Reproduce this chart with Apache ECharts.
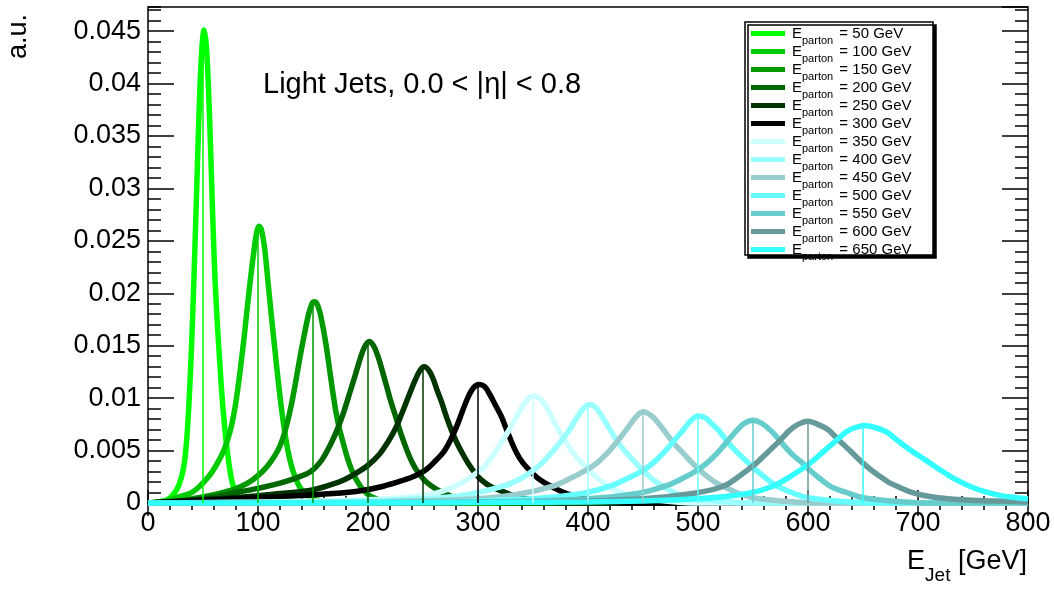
<!DOCTYPE html>
<html><head><meta charset="utf-8">
<script src="https://cdn.jsdelivr.net/npm/echarts@6/dist/echarts.min.js"></script>
<style>html,body{margin:0;padding:0;background:#fff}#c{width:1054px;height:591px}</style>
</head><body><div id="c"></div>
<script>
const energies = [50, 100, 150, 200, 250, 300, 350, 400, 450, 500, 550, 600, 650];
const colors = ['#00ff00', '#00cc00', '#009900', '#006600', '#003300', '#000000',
  '#ccffff', '#99ffff', '#99cccc', '#66ffff', '#66cccc', '#669999', '#33ffff'];
const peakValues = [0.0448, 0.0263, 0.0191, 0.0154, 0.0130, 0.0113, 0.0102, 0.0094, 0.0087, 0.0083, 0.0079, 0.0078, 0.0073];

const curve50 = [[0,0],[10,0.0001],[15,0.0002],[20,0.0005],[25,0.0011],[28,0.0017],[31,0.0027],[33,0.0038],[35,0.0058],[37,0.0090],[39,0.0135],[41,0.0190],[43,0.0255],[45,0.0325],[47,0.0390],[49,0.0434],[51,0.0451],[53,0.0436],[55,0.0395],[57,0.0335],[59,0.0268],[61,0.0212],[63,0.0172],[65,0.0138],[67,0.0106],[69,0.0080],[71,0.0059],[73,0.0042],[75,0.0028],[77,0.0018],[80,0.0010],[85,0.0004],[95,0.0001],[110,0],[800,0]];
const curve100 = [[0,0],[15,0.0002],[25,0.0005],[38,0.0009],[45,0.0014],[55,0.0025],[62,0.0036],[68,0.0048],[72,0.0059],[76,0.0074],[80,0.0097],[84,0.0128],[88,0.0164],[92,0.0203],[96,0.0238],[99,0.0259],[101,0.0264],[103,0.0261],[106,0.0243],[109,0.0212],[112,0.0180],[115,0.0150],[118,0.0120],[121,0.0093],[124,0.0070],[127,0.0051],[130,0.0037],[134,0.0024],[138,0.0015],[143,0.0009],[150,0.0004],[165,0.0001],[190,0],[800,0]];
const curve150 = [[0,0],[20,0.0001],[40,0.0004],[60,0.0008],[75,0.0012],[85,0.0016],[95,0.0022],[105,0.0031],[112,0.0040],[118,0.0050],[122,0.0060],[126,0.0074],[130,0.0092],[134,0.0114],[138,0.0138],[142,0.0160],[146,0.0180],[149,0.0190],[151,0.0192],[153,0.0191],[156,0.0183],[159,0.0168],[162,0.0150],[165,0.0128],[168,0.0106],[171,0.0086],[174,0.0071],[177,0.0059],[181,0.0044],[185,0.0032],[190,0.0021],[196,0.0012],[203,0.0006],[215,0.0002],[240,0],[800,0]];
const curve200 = [[0,0],[30,0.0002],[60,0.0006],[80,0.0010],[100,0.0014],[120,0.0019],[135,0.0024],[148,0.0030],[158,0.0041],[166,0.0056],[172,0.0070],[178,0.0087],[184,0.0107],[189,0.0124],[193,0.0138],[197,0.0149],[201,0.0154],[205,0.0150],[209,0.0140],[213,0.0126],[217,0.0111],[221,0.0096],[225,0.0083],[229,0.0069],[233,0.0057],[237,0.0046],[241,0.0037],[245,0.0030],[251,0.0022],[258,0.0016],[266,0.0011],[280,0.0005],[300,0.0002],[330,0],[800,0]];
const curve250 = [[0,0],[30,0.0002],[60,0.0004],[90,0.0006],[120,0.0009],[147,0.0012],[165,0.0017],[178,0.0022],[190,0.0029],[200,0.0036],[210,0.0046],[218,0.0058],[225,0.0071],[231,0.0086],[237,0.0102],[242,0.0115],[247,0.0126],[251,0.0130],[255,0.0127],[259,0.0119],[263,0.0107],[267,0.0096],[271,0.0083],[276,0.0069],[281,0.0057],[286,0.0047],[291,0.0038],[297,0.0029],[303,0.0022],[311,0.0016],[320,0.0012],[335,0.0006],[355,0.0002],[380,0],[800,0]];
const curve300 = [[0,0],[40,0.0002],[80,0.0004],[120,0.0006],[168,0.0009],[195,0.0012],[214,0.0016],[230,0.0021],[243,0.0026],[253,0.0032],[262,0.0041],[269,0.0049],[275,0.0060],[281,0.0074],[286,0.0088],[291,0.0101],[296,0.0110],[301,0.0113],[306,0.0111],[311,0.0103],[316,0.0093],[321,0.0083],[326,0.0070],[331,0.0057],[336,0.0046],[341,0.0038],[347,0.0031],[354,0.0024],[361,0.0019],[368,0.0015],[378,0.0010],[390,0.0006],[410,0.0002],[440,0],[800,0]];
const curve350 = [[0,0],[100,0.0001],[200,0.0003],[240,0.0006],[260,0.0009],[275,0.0014],[288,0.0021],[298,0.0028],[306,0.0035],[314,0.0046],[322,0.0059],[329,0.0071],[336,0.0084],[343,0.0096],[350,0.0102],[357,0.0099],[364,0.0088],[371,0.0074],[378,0.0061],[385,0.0050],[392,0.0041],[399,0.0033],[406,0.0026],[413,0.0020],[420,0.0015],[430,0.0010],[445,0.0005],[470,0.0002],[500,0],[800,0]];
const curve400 = [[0,0],[150,0.0001],[250,0.0004],[290,0.0008],[323,0.0016],[340,0.0024],[350,0.0031],[358,0.0038],[366,0.0047],[374,0.0057],[382,0.0068],[389,0.0080],[395,0.0089],[401,0.0094],[407,0.0091],[413,0.0082],[420,0.0070],[427,0.0058],[434,0.0049],[441,0.0041],[448,0.0033],[455,0.0026],[462,0.0020],[468,0.0016],[478,0.0010],[492,0.0005],[515,0.0002],[550,0],[800,0]];
const curve450 = [[0,0],[200,0.0001],[300,0.0004],[340,0.0009],[368,0.0016],[385,0.0024],[398,0.0031],[408,0.0038],[417,0.0047],[426,0.0058],[435,0.0070],[442,0.0080],[450,0.0087],[458,0.0083],[464,0.0076],[470,0.0068],[478,0.0057],[486,0.0048],[494,0.0039],[502,0.0031],[510,0.0024],[517,0.0019],[523,0.0016],[535,0.0010],[550,0.0005],[575,0.0002],[610,0],[800,0]];
const curve500 = [[0,0],[250,0.0001],[350,0.0004],[395,0.0009],[420,0.0016],[437,0.0024],[450,0.0031],[459,0.0038],[468,0.0047],[477,0.0058],[486,0.0069],[493,0.0078],[500,0.0083],[507,0.0081],[513,0.0075],[519,0.0069],[527,0.0058],[535,0.0049],[543,0.0041],[551,0.0033],[559,0.0026],[566,0.0020],[572,0.0016],[585,0.0010],[600,0.0005],[625,0.0002],[660,0],[800,0]];
const curve550 = [[0,0],[300,0.0001],[400,0.0004],[445,0.0009],[470,0.0016],[487,0.0024],[499,0.0031],[508,0.0038],[517,0.0047],[526,0.0058],[535,0.0069],[542,0.0076],[550,0.0079],[558,0.0076],[564,0.0071],[570,0.0065],[578,0.0055],[586,0.0046],[594,0.0039],[602,0.0031],[610,0.0024],[616,0.0019],[622,0.0015],[635,0.0010],[650,0.0005],[675,0.0002],[710,0],[800,0]];
const curve600 = [[0,0],[350,0.0001],[450,0.0004],[495,0.0009],[523,0.0016],[538,0.0026],[553,0.0038],[563,0.0048],[573,0.0058],[583,0.0069],[591,0.0075],[600,0.0078],[609,0.0075],[618,0.0070],[626,0.0062],[634,0.0054],[642,0.0046],[650,0.0038],[658,0.0031],[666,0.0025],[673,0.0020],[681,0.0016],[695,0.0010],[712,0.0006],[740,0.0003],[770,0.0002],[800,0.0001]];
const curve650 = [[0,0],[400,0.0001],[500,0.0004],[545,0.0009],[568,0.0016],[585,0.0026],[602,0.0038],[613,0.0048],[624,0.0058],[635,0.0068],[643,0.0072],[652,0.0074],[661,0.0072],[671,0.0068],[681,0.0060],[691,0.0052],[701,0.0045],[711,0.0038],[721,0.0031],[730,0.0025],[739,0.0020],[747,0.0016],[760,0.0011],[775,0.0007],[790,0.0005],[800,0.0004]];
const curves = [curve50, curve100, curve150, curve200, curve250, curve300, curve350, curve400, curve450, curve500, curve550, curve600, curve650];

const FONT = 'Liberation Sans, Arial, Helvetica, sans-serif';
const chart = echarts.init(document.getElementById('c'), null, {renderer: 'canvas'});

const series = energies.map((e, i) => ({
  name: String(e),
  type: 'line',
  xAxisIndex: 0, yAxisIndex: 0,
  data: curves[i],
  smooth: 0.35,
  symbol: 'none',
  clip: false,
  color: colors[i],
  lineStyle: {width: 5.5, color: colors[i]},
  z: 3,
  markLine: {
    silent: true, symbol: ['none', 'none'], animation: false,
    label: {show: false},
    lineStyle: {color: colors[i], width: 1.5, type: 'solid'},
    data: [[{coord: [e, 0]}, {coord: [e, peakValues[i]]}]]
  }
}));

const tickStyle = {color: '#000', width: 1.5};
const yBase = {type: 'value', min: 0, max: 0.0473, splitLine: {show: false}, axisLine: {show: false}};
const xBase = {type: 'value', min: 0, max: 800, interval: 100, splitLine: {show: false}, axisLine: {show: false}};

chart.setOption({
  animation: false,
  backgroundColor: '#fff',
  grid: {left: 148, right: 26, top: 7, bottom: 88, show: true, borderColor: '#000', borderWidth: 1.5, backgroundColor: 'transparent'},
  xAxis: [
    Object.assign({}, xBase, {position: 'bottom',
      axisTick: {inside: true, length: 13, lineStyle: tickStyle},
      minorTick: {show: true, splitNumber: 5, length: 7, lineStyle: tickStyle},
      axisLabel: {color: '#000', fontSize: 27, fontFamily: FONT, margin: 7}}),
    Object.assign({}, xBase, {position: 'top',
      axisTick: {inside: true, length: 13, lineStyle: tickStyle},
      minorTick: {show: true, splitNumber: 5, length: 7, lineStyle: tickStyle},
      axisLabel: {show: false}})
  ],
  yAxis: [
    Object.assign({}, yBase, {position: 'left', interval: 0.005,
      axisTick: {inside: true, length: 26, lineStyle: tickStyle},
      axisLabel: {color: '#000', fontSize: 27, fontFamily: FONT, margin: 7, showMaxLabel: false,
        formatter: v => v === 0 ? '0' : String(+v.toFixed(4))}}),
    Object.assign({}, yBase, {position: 'left', interval: 0.001,
      axisTick: {inside: true, length: 13, lineStyle: tickStyle}, axisLabel: {show: false}}),
    Object.assign({}, yBase, {position: 'right', interval: 0.005,
      axisTick: {inside: true, length: 26, lineStyle: tickStyle}, axisLabel: {show: false}}),
    Object.assign({}, yBase, {position: 'right', interval: 0.001,
      axisTick: {inside: true, length: 13, lineStyle: tickStyle}, axisLabel: {show: false}})
  ],
  legend: {
    orient: 'vertical', left: 751, top: 26, padding: 0, itemGap: -2,
    itemWidth: 34, itemHeight: 5, icon: 'rect', selectedMode: false, z: 10,
    data: energies.map(String),
    formatter: name => '{e|E}{s|parton}{e| = ' + name + ' GeV}',
    textStyle: {
      fontFamily: FONT,
      rich: {
        e: {fontSize: 15, lineHeight: 15, color: '#000', fontFamily: FONT, verticalAlign: 'top', padding: [0, 0, 0, 2]},
        s: {fontSize: 11, lineHeight: 11, color: '#000', fontFamily: FONT, verticalAlign: 'top', padding: [9, 0, 0, 0]}
      }
    }
  },
  graphic: [
    {type: 'rect', z: 8, shape: {x: 745, y: 22, width: 188, height: 233},
      style: {fill: '#fff', stroke: '#000', lineWidth: 1.5, shadowColor: '#000', shadowOffsetX: 3, shadowOffsetY: 3, shadowBlur: 0}},
    {type: 'text', z: 9, style: {x: 263, y: 85, text: 'Light Jets, 0.0 < |\u03b7| < 0.8', fontSize: 29, fontFamily: FONT, fill: '#000', align: 'left', verticalAlign: 'middle'}},
    {type: 'text', z: 9, x: 19, y: 14, rotation: Math.PI / 2,
      style: {x: 0, y: 0, text: 'a.u.', fontSize: 27, fontFamily: FONT, fill: '#000', align: 'right', verticalAlign: 'middle'}},
    {type: 'text', z: 9, style: {x: 1027, y: 548, align: 'right', verticalAlign: 'top',
      text: '{m|E}{s|Jet}{m| [GeV]}', fontFamily: FONT,
      rich: {
        m: {fontSize: 27, lineHeight: 27, fill: '#000', fontFamily: FONT, verticalAlign: 'top'},
        s: {fontSize: 19, lineHeight: 19, fill: '#000', fontFamily: FONT, verticalAlign: 'top', padding: [18, 0, 0, 0]}
      }}}
  ],
  series: series
});
</script></body></html>
